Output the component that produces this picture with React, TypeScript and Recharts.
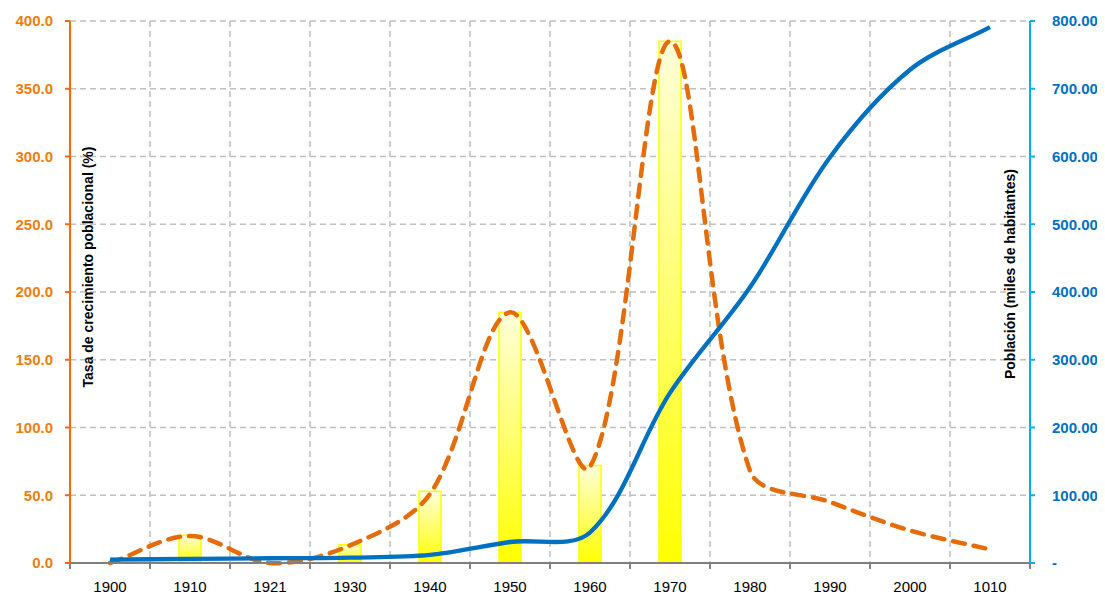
import React from 'react';
import { ComposedChart, Bar, Line, XAxis, YAxis, CartesianGrid } from 'recharts';

// datos
const years = ['1900', '1910', '1921', '1930', '1940', '1950', '1960', '1970', '1980', '1990', '2000', '1010'];
const tasaBarras = [null, 20.5, null, 13.5, 53, 185, 72, 385, null, null, null, null];
const tasaLinea = [0, 20, 0, 13, 51, 185, 71, 385, 68, 45, 24, 10];
const poblacion = [5, 6, 7, 8, 12, 31, 45, 251, 407, 599, 728, 791];
const leftTicks = [0, 50, 100, 150, 200, 250, 300, 350, 400];
const rightTicks = [0, 100, 200, 300, 400, 500, 600, 700, 800];

const data = years.map((year, i) => ({
    year,
    tasaBarra: tasaBarras[i],
    tasaLinea: tasaLinea[i],
    poblacion: poblacion[i],
}));

const W = 1089;
const H = 586;
const LEFT_W = 62;
const RIGHT_W = 67;
const BAND = (W - LEFT_W - RIGHT_W) / years.length;
const FONT = '"Liberation Sans", Arial, sans-serif';

// suavizado tipo Excel: bezier con tangentes proporcionales a la longitud de los tramos
const excelCurve: any = (context: any) => {
    let pts: number[][] = [];
    const dist = (a: number[], b: number[]) => Math.hypot(a[0] - b[0], a[1] - b[1]);
    return {
        areaStart() {},
        areaEnd() {},
        lineStart() {
            pts = [];
        },
        point(x: number, y: number) {
            pts.push([+x, +y]);
        },
        lineEnd() {
            if (!pts.length) return;
            context.moveTo(pts[0][0], pts[0][1]);
            const n = pts.length;
            for (let i = 0; i < n - 1; i++) {
                const p0 = pts[Math.max(i - 1, 0)];
                const p1 = pts[i];
                const p2 = pts[i + 1];
                const p3 = pts[Math.min(i + 2, n - 1)];
                const d01 = dist(p0, p1);
                const d12 = dist(p1, p2);
                const d23 = dist(p2, p3);
                const f1 = d01 + d12 > 0 ? d12 / (d01 + d12) / 3 : 0;
                const f2 = d12 + d23 > 0 ? d12 / (d12 + d23) / 3 : 0;
                const c1x = p1[0] + (p2[0] - p0[0]) * f1;
                const c1y = p1[1] + (p2[1] - p0[1]) * f1;
                const c2x = p2[0] - (p3[0] - p1[0]) * f2;
                const c2y = p2[1] - (p3[1] - p1[1]) * f2;
                context.bezierCurveTo(c1x, c1y, c2x, c2y, p2[0], p2[1]);
            }
        },
    };
};

const XTick = (props: any) => {
    const { x, y, payload, index } = props;
    const half = BAND / 2;
    return (
        <g>
            <line x1={x - half} x2={x - half} y1={y} y2={y + 6} stroke="#808080" strokeWidth={2} />
            {index === years.length - 1 && (
                <line x1={x + half} x2={x + half} y1={y} y2={y + 6} stroke="#808080" strokeWidth={2} />
            )}
            <text x={x} y={y + 23} textAnchor="middle" dominantBaseline="central" fill="#000" fontSize={15} fontFamily={FONT}>
                {payload.value}
            </text>
        </g>
    );
};

const leftTitle = (props: any) => {
    const vb = props.viewBox;
    const x = vb.x + vb.width + 18;
    const y = vb.y + vb.height / 2 - 25;
    return (
        <text x={x} y={y} transform={`rotate(-90, ${x}, ${y})`} textAnchor="middle" dominantBaseline="central"
            fontSize={14} fontWeight="bold" fontFamily={FONT} fill="#000">
            Tasa de crecimiento poblacional (%)
        </text>
    );
};

const rightTitle = (props: any) => {
    const vb = props.viewBox;
    const x = vb.x - 20;
    const y = vb.y + vb.height / 2 - 18;
    return (
        <text x={x} y={y} transform={`rotate(-90, ${x}, ${y})`} textAnchor="middle" dominantBaseline="central"
            fontSize={14} fontWeight="bold" fontFamily={FONT} fill="#000">
            Población (miles de habitantes)
        </text>
    );
};

export default function App() {
    return (
        <ComposedChart width={W} height={H} data={data} margin={{ top: 13, right: 0, bottom: 1, left: 0 }}>
            <defs>
                <linearGradient id="barGrad" x1="0" y1="0" x2="0" y2="1">
                    <stop offset="0%" stopColor="#FFFFDA" />
                    <stop offset="100%" stopColor="#FFFF00" />
                </linearGradient>
            </defs>
            <CartesianGrid
                yAxisId="left"
                stroke="#BFBFBF"
                strokeWidth={1.5}
                strokeDasharray="6 4"
                verticalCoordinatesGenerator={({ offset }: any) =>
                    years.slice(1).map((_, i) => offset.left + (offset.width / years.length) * (i + 1))
                }
            />
            <XAxis
                dataKey="year"
                height={30}
                interval={0}
                tickSize={0}
                tickMargin={0}
                tickLine={false}
                axisLine={{ stroke: '#808080', strokeWidth: 2 }}
                tick={<XTick />}
            />
            <YAxis
                yAxisId="left"
                domain={[0, 400]}
                ticks={leftTicks}
                width={LEFT_W}
                tickSize={5}
                tickMargin={12}
                axisLine={{ stroke: '#FF6600', strokeWidth: 2 }}
                tickLine={{ stroke: '#FF6600', strokeWidth: 2 }}
                tick={{ fill: '#EE7D11', fontSize: 15, fontWeight: 'bold', fontFamily: FONT }}
                tickFormatter={(v: number) => v.toFixed(1)}
                label={leftTitle}
            />
            <YAxis
                yAxisId="right"
                orientation="right"
                domain={[0, 800]}
                ticks={rightTicks}
                width={RIGHT_W}
                tickSize={5}
                tickMargin={17}
                axisLine={{ stroke: '#00B0F0', strokeWidth: 2 }}
                tickLine={{ stroke: '#00B0F0', strokeWidth: 2 }}
                tick={{ fill: '#0070C0', fontSize: 15, fontWeight: 'bold', fontFamily: FONT, textAnchor: 'start' }}
                tickFormatter={(v: number) => (v === 0 ? '-' : v.toFixed(2))}
                label={rightTitle}
            />
            <Bar
                yAxisId="left"
                dataKey="tasaBarra"
                barSize={22}
                fill="url(#barGrad)"
                stroke="#FFFF00"
                strokeWidth={1.5}
                isAnimationActive={false}
            />
            <Line
                yAxisId="left"
                dataKey="tasaLinea"
                type={excelCurve}
                stroke="#E46C0A"
                strokeWidth={4.5}
                strokeDasharray="12 9"
                strokeLinecap="round"
                dot={false}
                activeDot={false}
                isAnimationActive={false}
            />
            <Line
                yAxisId="right"
                dataKey="poblacion"
                type={excelCurve}
                stroke="#0070C0"
                strokeWidth={4.3}
                dot={false}
                activeDot={false}
                isAnimationActive={false}
            />
        </ComposedChart>
    );
}
